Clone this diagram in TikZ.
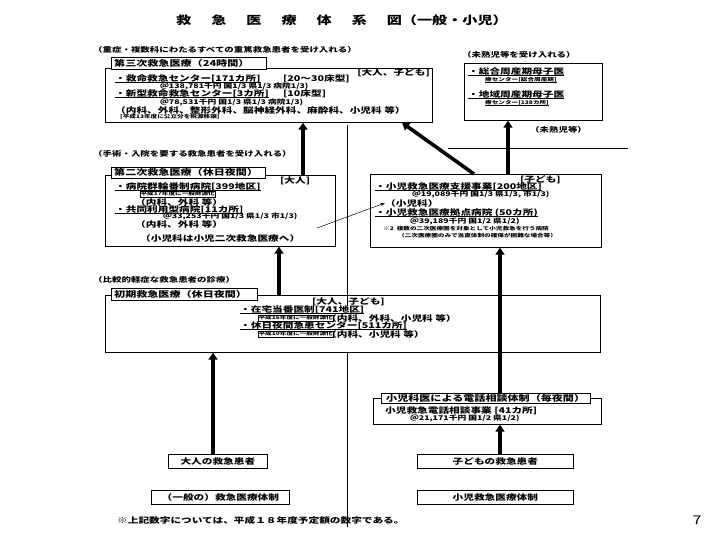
\documentclass[tikz,border=0pt]{standalone}
\usepackage{fontspec}
\setmainfont{Noto Sans CJK JP}[FakeStretch=1.35]
\usetikzlibrary{arrows.meta}
\newcommand\myul[1]{\setbox0\hbox{#1}\rlap{\rule[-0.9pt]{\wd0}{0.5pt}}\box0}
\begin{document}
\begin{tikzpicture}[x=1pt,y=-1pt,
  txt/.style={anchor=west,inner sep=0pt,font=\fontsize{7.9}{8}\selectfont\bfseries},
  sml/.style={anchor=west,inner sep=0pt,font=\fontsize{6.5}{7}\selectfont\bfseries},
  capt/.style={anchor=west,inner sep=0pt,font=\fontsize{7}{8}\selectfont\bfseries},
  tinytxt/.style={anchor=west,inner sep=0pt,font=\fontsize{4.9}{5}\selectfont\bfseries},
  tinybox/.style={anchor=west,inner sep=0.4pt,draw,line width=0.4pt,font=\fontsize{4.9}{5}\selectfont\bfseries},
  boxframe/.style={draw,line width=0.7pt,anchor=north west,inner sep=0pt},
  lbl/.style={draw,fill=white,line width=0.7pt,anchor=north west,inner sep=0pt},
  lbltxt/.style={anchor=west,inner sep=0pt,font=\fontsize{8.2}{9}\selectfont\bfseries},
  bigarr/.style={line width=3.6pt,-{Triangle[length=7pt,width=9pt]}},
  thinarr/.style={line width=0.5pt,-{Stealth[length=5pt,width=3pt]}}
]
\useasboundingbox (0,0) rectangle (720,540);
\fill[white] (0,0) rectangle (720,540);

% title
\node[inner sep=0pt,font=\fontsize{11.2}{12}\selectfont\bfseries] (title) at (342,20)
 {救\hspace{20pt}急\hspace{20pt}医\hspace{20pt}療\hspace{20pt}体\hspace{20pt}系\hspace{20pt}図（一般・小児）};

% divider lines
\draw[line width=0.6pt] (347,125) -- (347,306);
\draw[line width=0.6pt] (347,352) -- (347,527);
\draw[line width=0.5pt] (448,148) -- (628,148);

% ===== third level
\node[capt] (c1) at (93,50) {（重症・複数科にわたるすべての重篤救急患者を受け入れる）};
\node[boxframe,minimum width=327pt,minimum height=54pt] (b1) at (105,68) {};
\node[lbl,minimum width=155pt,minimum height=12pt] (l1) at (111,57) {};
\node[lbltxt] (l1t) at (114,63) {第三次救急医療（24時間）};
\node[txt,anchor=east] (t1a) at (430,73) {[大人、子ども]};
\node[txt] (t1b) at (115,79) {\myul{・救命救急センター[171カ所]}};
\node[txt] (t1c) at (283,78.5) {[20～30床型]};
\node[sml] (t1d) at (160,86.5) {＠138,781千円 国1/3 県1/3 病院1/3)};
\node[txt] (t1e) at (115,94) {\myul{・新型救命救急センター[3カ所]}};
\node[txt] (t1f) at (283,93.5) {[10床型]};
\node[sml] (t1g) at (160,102) {＠78,531千円 国1/3 県1/3 病院1/3)};
\node[txt] (t1h) at (115,110) {（内科、外科、整形外科、脳神経外科、麻酔科、小児科 等）};
\node[tinytxt] (t1i) at (120,117) {[平成13年度に公立分を税源移譲]};

% perinatal
\node[capt] (c2) at (462,55) {（未熟児等を受け入れる）};
\node[boxframe,minimum width=138pt,minimum height=57pt] (p1) at (464,63) {};
\node[txt] (p1a) at (468,72) {\myul{・総合周産期母子医}};
\node[tinytxt] (p1b) at (485,80) {\myul{療センター[総合周産期]}};
\node[txt] (p1c) at (468,95) {\myul{・地域周産期母子医}};
\node[tinytxt] (p1d) at (485,103) {\myul{療センター[138カ所]}};
\node[capt] (c3) at (530,130) {（未熟児等）};

% ===== second level
\node[capt] (c4) at (93,154) {（手術・入院を要する救急患者を受け入れる）};
\node[boxframe,minimum width=230pt,minimum height=71pt] (b2) at (105,175) {};
\node[lbl,minimum width=154pt,minimum height=11pt] (l2) at (111,167) {};
\node[lbltxt] (l2t) at (114,172.5) {第二次救急医療（休日夜間）};
\node[txt] (t2a) at (280,180.5) {[大人]};
\node[txt] (t2b) at (115,187) {\myul{・病院群輪番制病院[399地区]}};
\node[tinybox] (t2c) at (140,194) {平成17年度に一般財源化};
\node[txt] (t2d) at (135,202.5) {（内科、外科 等）};
\node[txt] (t2e) at (115,209.5) {\myul{・共同利用型病院[11カ所]}};
\node[sml] (t2f) at (163,216.5) {＠33,253千円 国1/3 県1/3 市1/3)};
\node[txt] (t2g) at (135,224) {（内科、外科 等）};
\node[txt] (t2h) at (140,238) {（小児科は小児二次救急医療へ）};

\node[boxframe,minimum width=231pt,minimum height=73pt] (k2) at (370,174) {};
\node[txt] (k2a) at (520,179.5) {[子ども]};
\node[txt] (k2b) at (375,187) {\myul{・小児救急医療支援事業[200地区]}};
\node[sml] (k2c) at (412,194.5) {＠19,089千円 国1/3 県1/3, 市1/3)};
\node[txt] (k2d) at (385,203) {（小児科）};
\node[txt] (k2e) at (375,213) {\myul{・小児救急医療拠点病院 (50カ所)}};
\node[sml] (k2f) at (410,221) {＠39,189千円 国1/2 県1/2)};
\node[tinytxt] (k2g) at (383,229) {※2\ \ 複数の二次医療圏を対象として小児救急を行う病院};
\node[tinytxt] (k2h) at (398,236) {（二次医療圏のみで当直体制の確保が困難な場合等）};

% ===== initial level
\node[capt] (c5) at (93,280) {（比較的軽症な救急患者の診療）};
\node[boxframe,minimum width=495pt,minimum height=57pt] (b3) at (105,295) {};
\node[lbl,minimum width=146pt,minimum height=12pt] (l3) at (111,288) {};
\node[lbltxt] (l3t) at (114,294) {初期救急医療（休日夜間）};
\node[txt] (t3a) at (312,302) {[大人、子ども]};
\node[txt] (t3b) at (240,310) {\myul{・在宅当番医制[741地区]}};
\node[tinybox] (t3c) at (258,318) {平成16年度に一般財源化};
\node[txt] (t3d) at (326,318) {（内科、外科、小児科 等）};
\node[txt] (t3e) at (240,326) {\myul{・休日夜間急患センター[511カ所]}};
\node[tinybox] (t3f) at (258,334) {平成10年度に一般財源化};
\node[txt] (t3g) at (326,334) {（内科、小児科 等）};

% ===== phone consultation
\node[boxframe,minimum width=228pt,minimum height=26pt] (b4) at (373,398) {};
\node[lbl,minimum width=209pt,minimum height=10pt] (l4) at (381,393) {};
\node[lbltxt] (l4t) at (386,398) {小児科医による電話相談体制（毎夜間）};
\node[txt] (t4a) at (385,411) {小児救急電話相談事業 [41カ所]};
\node[sml] (t4b) at (410,418) {＠21,171千円 国1/2 県1/2)};

% ===== patients
\node[boxframe,minimum width=99pt,minimum height=14pt] (pa) at (168,454) {};
\node[txt,anchor=center] (pat) at (pa.center) {大人の救急患者};
\node[boxframe,minimum width=156pt,minimum height=14pt] (pc) at (417,454) {};
\node[txt,anchor=center] (pct) at (pc.center) {子どもの救急患者};
\node[boxframe,minimum width=138pt,minimum height=14pt] (sa) at (151,490) {};
\node[txt,anchor=center] (sat) at (sa.center) {（一般の）救急医療体制};
\node[boxframe,minimum width=156pt,minimum height=14pt] (sc) at (417,490) {};
\node[txt,anchor=center] (sct) at (sc.center) {小児救急医療体制};

\node[txt] (foot) at (117,520) {※上記数字については、平成１８年度予定額の数字である。};
\node[inner sep=0pt,font=\fontsize{12}{13}\selectfont] (pg) at (697,520) {7};

% ===== arrows
\draw[bigarr] (213,0 |- pa.north) -- (213,0 |- b3.south);
\draw[bigarr] (279,0 |- b3.north) -- (279,0 |- b2.south);
\draw[bigarr] (303,0 |- b2.north) -- (303,0 |- b1.south);
\draw[bigarr] (500,0 |- pc.north) -- (500,0 |- b4.south);
\draw[bigarr] (500,0 |- l4.north) -- (500,0 |- k2.south);
\draw[bigarr] (508,0 |- k2.north) -- (508,0 |- p1.south);
\draw[bigarr] (474,0 |- k2.north) -- (402,0 |- b1.south);
\draw[thinarr] (317,228) -- (k2d.west);
\end{tikzpicture}
\end{document}
